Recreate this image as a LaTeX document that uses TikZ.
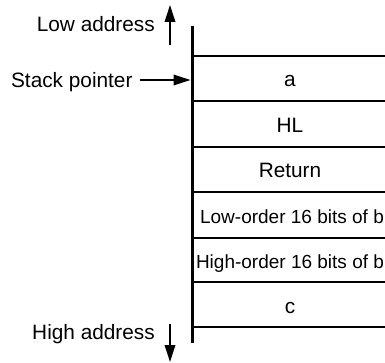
\documentclass[tikz,border=0pt]{standalone}
\usepackage{fontspec}
\setmainfont{Liberation Sans}
\usetikzlibrary{arrows.meta}
\begin{document}
\begin{tikzpicture}[x=1pt,y=-1pt,
  lbl/.style={font=\fontsize{20.8}{24}\selectfont, inner sep=0pt, anchor=base east},
  celltext/.style={font=\fontsize{20.8}{24}\selectfont, inner sep=0pt, anchor=base},
  longtext/.style={font=\fontsize{19}{22}\selectfont, inner sep=0pt, anchor=base},
  thickrule/.style={line width=3pt},
  rule/.style={line width=2pt},
  arr/.style={line width=2pt, -{Triangle[length=17pt,width=10.5pt]}}
]
\useasboundingbox (0,0) rectangle (385,363);
% stack frame
\draw[thickrule] (192,26) -- (192,343);
\foreach \yy in {56,101,147,192,238,282,327}
  \draw[rule] (192,\yy) -- (385,\yy);
\node[celltext] (a) at (290,87) {a};
\node[celltext] (hl) at (290,132.5) {HL};
\node[celltext] (ret) at (290,178) {Return};
\node[longtext] (lob) at (292,223.5) {Low-order 16 bits of b};
\node[longtext] (hob) at (290,268.5) {High-order 16 bits of b};
\node[celltext] (c) at (290,313) {c};
% labels
\node[lbl] (low) at (155,31.7) {Low address};
\node[lbl] (sp) at (132.7,87.3) {Stack pointer};
\node[lbl] (high) at (155,339.3) {High address};
% arrows
\coordinate (lowtail) at (170,45);
\coordinate (lowhead) at (170,5);
\coordinate (sptail) at (140,80);
\coordinate (sphead) at (190.5,80);
\coordinate (hightail) at (170,324);
\coordinate (highhead) at (170,362);
\draw[arr] (lowtail) -- (lowhead);
\draw[arr] (sptail) -- (sphead);
\draw[arr] (hightail) -- (highhead);
\end{tikzpicture}
\end{document}
